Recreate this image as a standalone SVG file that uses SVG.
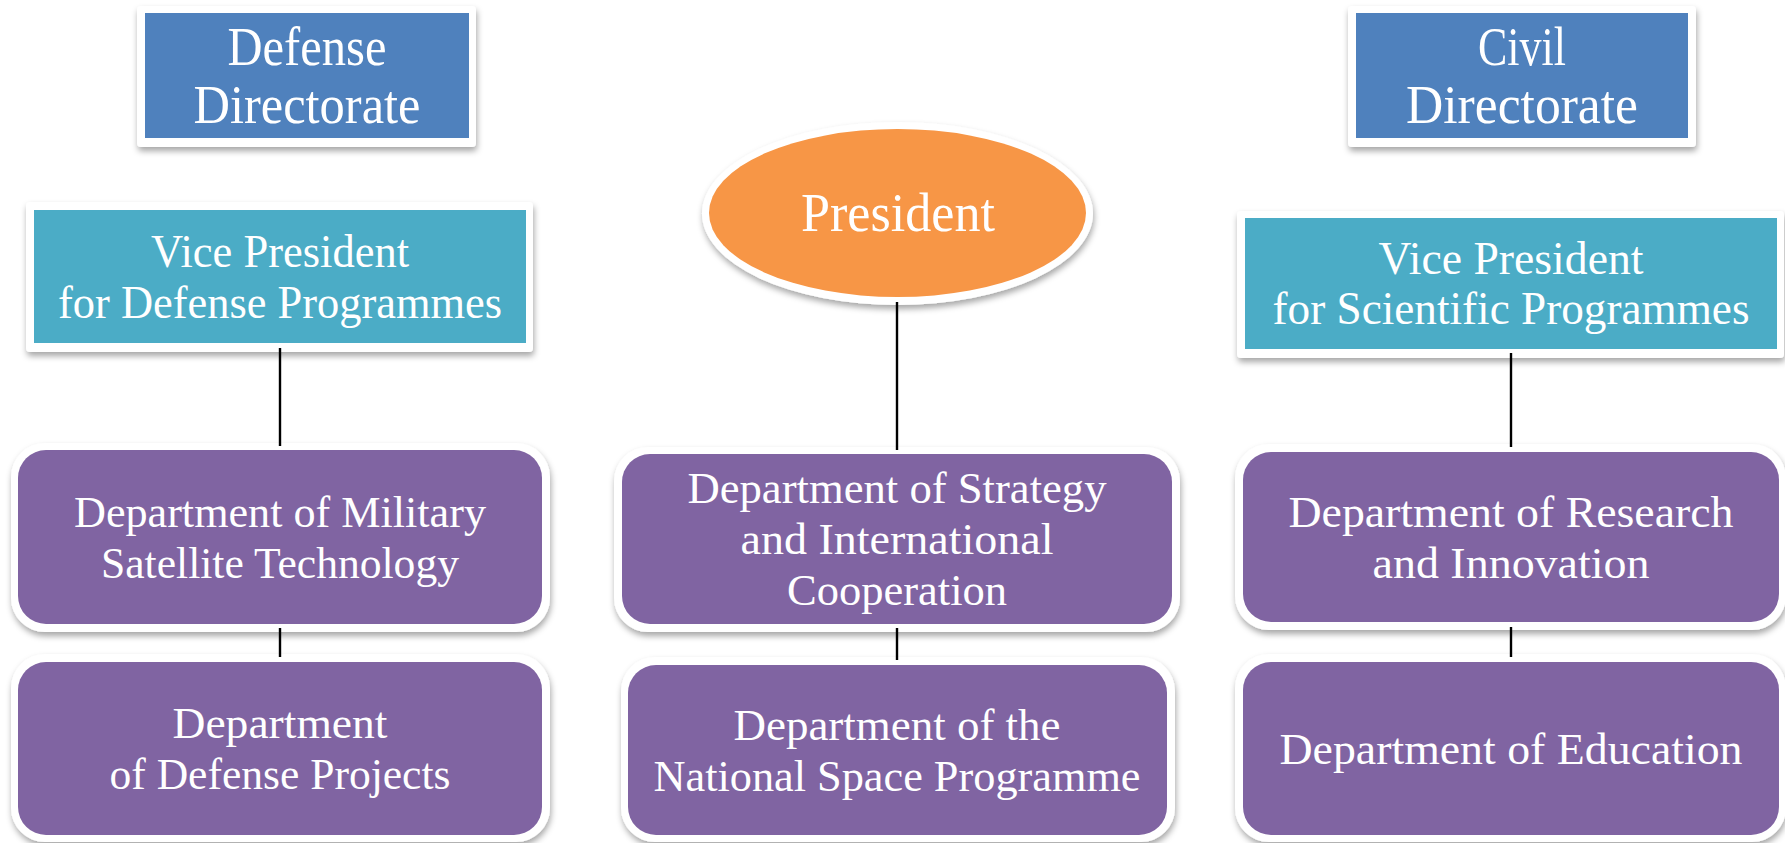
<svg xmlns="http://www.w3.org/2000/svg" width="1785" height="843" viewBox="0 0 1785 843">
<defs>
<filter id="sh" x="-10%" y="-10%" width="120%" height="130%">
<feDropShadow dx="1" dy="4" stdDeviation="3" flood-color="#000" flood-opacity="0.35"/>
</filter>
</defs>
<style>
.t{font-family:"Liberation Serif","Times New Roman",serif;fill:#fff;text-anchor:middle}
.dir{font-size:54px}
.vp{font-size:46px}
.pr{font-size:54px}
.dp{font-size:45px}
.w{fill:#fff;filter:url(#sh)}
.blue{fill:#4F81BD}
.teal{fill:#4BACC6}
.org{fill:#F79646}
.pur{fill:#8064A2}
.c{stroke:#000;stroke-width:2.4;fill:none}
</style>
<rect width="1785" height="843" fill="#fff"/>

<g id="defense-directorate">
<rect class="w" x="137" y="6" width="339" height="141" rx="4"/>
<rect class="blue" x="145" y="13" width="324" height="125"/>
<text class="t dir" x="307" y="65" textLength="159" lengthAdjust="spacingAndGlyphs">Defense</text>
<text class="t dir" x="307" y="123" textLength="227" lengthAdjust="spacingAndGlyphs">Directorate</text>
</g>

<g id="civil-directorate">
<rect class="w" x="1348" y="6" width="348" height="141" rx="4"/>
<rect class="blue" x="1356" y="13" width="332" height="125"/>
<text class="t dir" x="1522" y="65" textLength="88" lengthAdjust="spacingAndGlyphs">Civil</text>
<text class="t dir" x="1522" y="123" textLength="232" lengthAdjust="spacingAndGlyphs">Directorate</text>
</g>

<g id="vp-defense">
<rect class="w" x="26" y="202" width="507" height="150" rx="4"/>
<rect class="teal" x="34" y="210" width="492" height="133"/>
<text class="t vp" x="280" y="267" textLength="258" lengthAdjust="spacingAndGlyphs">Vice President</text>
<text class="t vp" x="280" y="318" textLength="444" lengthAdjust="spacingAndGlyphs">for Defense Programmes</text>
</g>

<g id="president">
<ellipse class="w" cx="897.5" cy="213.5" rx="195.5" ry="91.5"/>
<ellipse class="org" cx="897.5" cy="213" rx="188.5" ry="84"/>
<text class="t pr" x="898" y="231" textLength="194" lengthAdjust="spacingAndGlyphs">President</text>
</g>

<g id="vp-scientific">
<rect class="w" x="1237" y="211" width="547" height="147" rx="4"/>
<rect class="teal" x="1245" y="218" width="532" height="131"/>
<text class="t vp" x="1511" y="274" textLength="265" lengthAdjust="spacingAndGlyphs">Vice President</text>
<text class="t vp" x="1511" y="324" textLength="477" lengthAdjust="spacingAndGlyphs">for Scientific Programmes</text>
</g>

<g id="dept-military">
<rect class="w" x="11" y="443" width="539" height="189" rx="34"/>
<rect class="pur" x="18" y="450" width="524" height="174" rx="28"/>
<text class="t dp" x="280" y="527" textLength="412" lengthAdjust="spacingAndGlyphs">Department of Military</text>
<text class="t dp" x="280" y="578" textLength="358" lengthAdjust="spacingAndGlyphs">Satellite Technology</text>
</g>

<g id="dept-defense-projects">
<rect class="w" x="11" y="654" width="539" height="188" rx="34"/>
<rect class="pur" x="18" y="662" width="524" height="173" rx="28"/>
<text class="t dp" x="280" y="738" textLength="215" lengthAdjust="spacingAndGlyphs">Department</text>
<text class="t dp" x="280" y="789" textLength="341" lengthAdjust="spacingAndGlyphs">of Defense Projects</text>
</g>

<g id="dept-strategy">
<rect class="w" x="614" y="447" width="566" height="185" rx="34"/>
<rect class="pur" x="622" y="454" width="550" height="170" rx="28"/>
<text class="t dp" x="897" y="503" textLength="419" lengthAdjust="spacingAndGlyphs">Department of Strategy</text>
<text class="t dp" x="897" y="554" textLength="313" lengthAdjust="spacingAndGlyphs">and International</text>
<text class="t dp" x="897" y="605" textLength="220" lengthAdjust="spacingAndGlyphs">Cooperation</text>
</g>

<g id="dept-national-space">
<rect class="w" x="621" y="657" width="554" height="185" rx="34"/>
<rect class="pur" x="628" y="665" width="539" height="170" rx="28"/>
<text class="t dp" x="897" y="740" textLength="327" lengthAdjust="spacingAndGlyphs">Department of the</text>
<text class="t dp" x="897" y="791" textLength="487" lengthAdjust="spacingAndGlyphs">National Space Programme</text>
</g>

<g id="dept-research">
<rect class="w" x="1235" y="444" width="551" height="186" rx="34"/>
<rect class="pur" x="1243" y="452" width="536" height="170" rx="28"/>
<text class="t dp" x="1511" y="527" textLength="445" lengthAdjust="spacingAndGlyphs">Department of Research</text>
<text class="t dp" x="1511" y="578" textLength="277" lengthAdjust="spacingAndGlyphs">and Innovation</text>
</g>

<g id="dept-education">
<rect class="w" x="1235" y="654" width="551" height="188" rx="34"/>
<rect class="pur" x="1243" y="662" width="536" height="173" rx="28"/>
<text class="t dp" x="1511" y="764" textLength="463" lengthAdjust="spacingAndGlyphs">Department of Education</text>
</g>

<g id="connectors">
<line class="c" x1="280" y1="348" x2="280" y2="446"/>
<line class="c" x1="280" y1="628" x2="280" y2="657"/>
<line class="c" x1="897" y1="302" x2="897" y2="450"/>
<line class="c" x1="897" y1="628" x2="897" y2="660"/>
<line class="c" x1="1511" y1="353" x2="1511" y2="447"/>
<line class="c" x1="1511" y1="627" x2="1511" y2="657"/>
</g>
</svg>
